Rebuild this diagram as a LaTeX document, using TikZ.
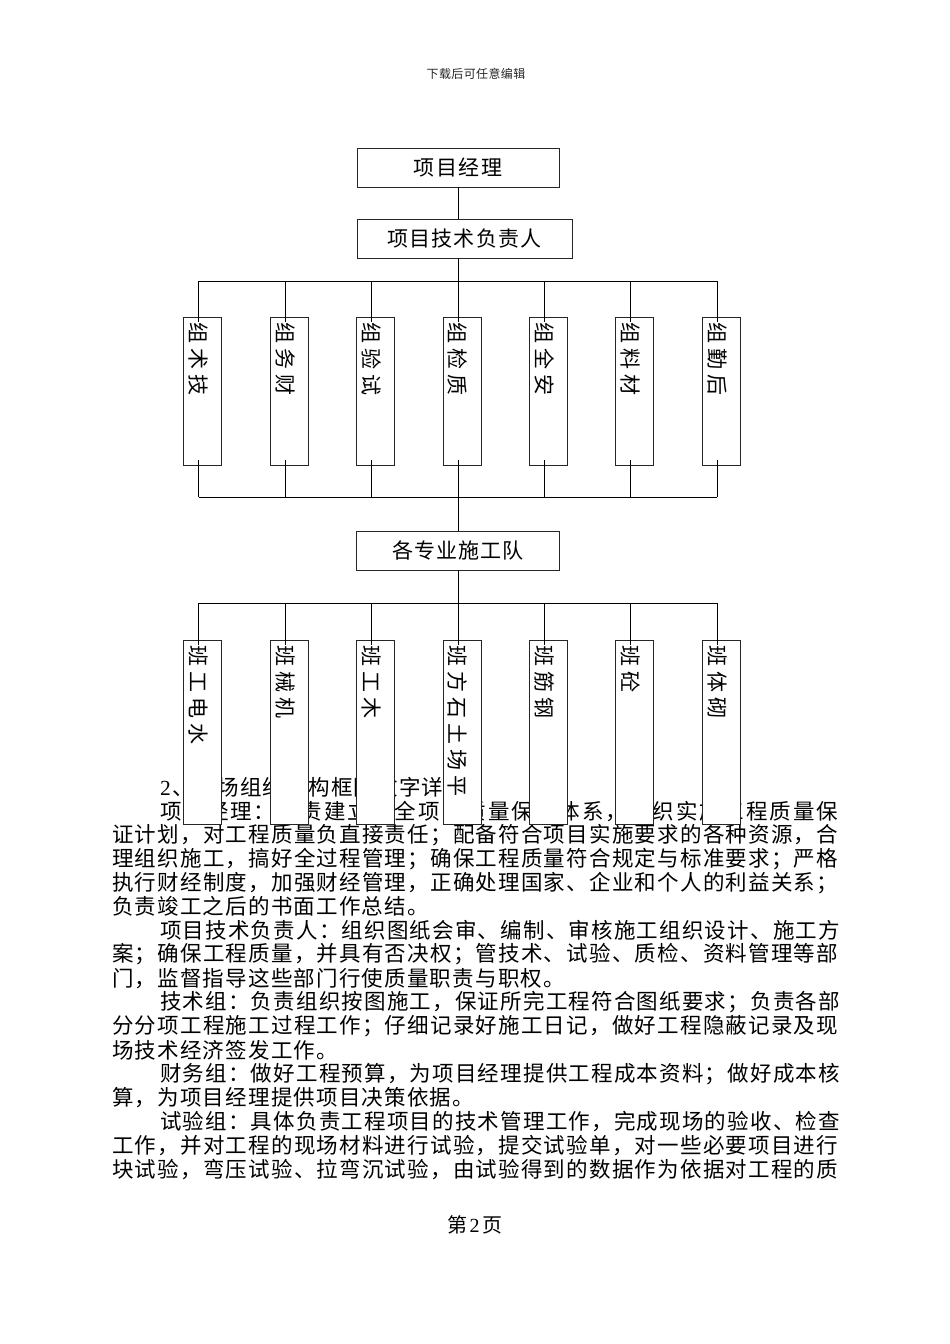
\documentclass[tikz,border=0pt]{standalone}
\usepackage{fontspec}
\setmainfont{Liberation Serif}
\newfontfamily\cjk{Noto Sans CJK SC}
\usetikzlibrary{calc}
\ExplSyntaxOn
\NewDocumentCommand\tx{O{1.2pt} m}{
  \bool_set_false:N \l_tmpa_bool
  \exp_args:No \tl_map_inline:nn {#2} {
    \bool_if:NT \l_tmpa_bool { \skip_horizontal:n { #1 plus 1fil } }
    \bool_set_true:N \l_tmpa_bool
    {##1}
  }
}
\ExplSyntaxOff
\tikzset{
  conn/.style={line width=0.8pt, draw=black},
  hbox/.style={draw=black!85, line width=0.9pt, fill=white, minimum height=39pt, inner sep=0pt, font=\cjk\fontsize{21}{21}\selectfont},
  vbox/.style={draw=black!85, line width=0.9pt, fill=white, minimum width=38pt, inner sep=0pt},
  vtxt/.style={rotate=-90, anchor=west, inner sep=0pt, font=\cjk\fontsize{21}{21}\selectfont},
  body/.style={anchor=west, inner sep=0pt, font=\cjk\fontsize{21.5}{21.5}\selectfont},
}
\begin{document}
\begin{tikzpicture}[x=1pt, y=-1pt]
\useasboundingbox[fill=white] (0,0) rectangle (950,1344);

% header
\node[inner sep=0pt, font=\cjk\fontsize{12}{12}\selectfont, text=black!85] (hdr) at (476,74) {\tx[0.4pt]{下载后可任意编辑}};

% body text
\node[body] (l1) at (160,787.2) {\tx{{\rmfamily 2}、现场组织机构框图文字详注}};
\node[body] (l2) at (160,811.1) {\hbox to 678pt{\tx{项目经理：负责建立健全项目质量保证体系，组织实施工程质量保}}};
\node[body] (l3) at (112,835) {\hbox to 726pt{\tx{证计划，对工程质量负直接责任；配备符合项目实施要求的各种资源，合}}};
\node[body] (l4) at (112,858.9) {\hbox to 726pt{\tx{理组织施工，搞好全过程管理；确保工程质量符合规定与标准要求；严格}}};
\node[body] (l5) at (112,882.8) {\hbox to 726pt{\tx{执行财经制度，加强财经管理，正确处理国家、企业和个人的利益关系；}}};
\node[body] (l6) at (112,906.7) {\tx{负责竣工之后的书面工作总结。}};
\node[body] (l7) at (160,930.6) {\hbox to 678pt{\tx{项目技术负责人：组织图纸会审、编制、审核施工组织设计、施工方}}};
\node[body] (l8) at (112,954.5) {\hbox to 726pt{\tx{案；确保工程质量，并具有否决权；管技术、试验、质检、资料管理等部}}};
\node[body] (l9) at (112,978.4) {\tx{门，监督指导这些部门行使质量职责与职权。}};
\node[body] (l10) at (160,1002.3) {\hbox to 678pt{\tx{技术组：负责组织按图施工，保证所完工程符合图纸要求；负责各部}}};
\node[body] (l11) at (112,1026.2) {\hbox to 726pt{\tx{分分项工程施工过程工作；仔细记录好施工日记，做好工程隐蔽记录及现}}};
\node[body] (l12) at (112,1050.1) {\tx{场技术经济签发工作。}};
\node[body] (l13) at (160,1074) {\hbox to 678pt{\tx{财务组：做好工程预算，为项目经理提供工程成本资料；做好成本核}}};
\node[body] (l14) at (112,1097.9) {\tx{算，为项目经理提供项目决策依据。}};
\node[body] (l15) at (160,1121.8) {\hbox to 678pt{\tx{试验组：具体负责工程项目的技术管理工作，完成现场的验收、检查}}};
\node[body] (l16) at (112,1145.7) {\hbox to 726pt{\tx{工作，并对工程的现场材料进行试验，提交试验单，对一些必要项目进行}}};
\node[body] (l17) at (112,1169.6) {\hbox to 726pt{\tx{块试验，弯压试验、拉弯沉试验，由试验得到的数据作为依据对工程的质}}};

% footer
\node[inner sep=0pt, font=\cjk\fontsize{20}{20}\selectfont] (ftr) at (475,1225) {第\kern2pt{\rmfamily 2}\kern3pt 页};

% main boxes
\node[hbox, minimum width=202pt] (pm) at (458,167.5) {\tx[1.7pt]{项目经理}};
\node[hbox, minimum width=215pt] (tl) at (464.5,238.5) {\tx[1.2pt]{项目技术负责人}};
\node[hbox, minimum width=203pt] (team) at (458,550.5) {\tx[1.2pt]{各专业施工队}};

% group boxes (top row)
\foreach \i/\t in {0/组术技,1/组务财,2/组验试,3/组检质,4/组全安,5/组料材,6/组勤后}{
  \pgfmathsetmacro\lx{458+86.4*(\i-3)}
  \coordinate (a\i) at (\lx,281);
  \coordinate (b\i) at (\lx,497);
  \node[vbox, minimum height=148pt] (g\i) at (\lx+4,391) {};
  \node[vtxt] (gt\i) at (\lx,322) {\tx[5pt]{\t}};
}
% team boxes (bottom row)
\foreach \i/\t in {0/班工电水,1/班械机,2/班工木,3/班方石土场平,4/班筋钢,5/班砼,6/班体砌}{
  \pgfmathsetmacro\lx{458+86.4*(\i-3)}
  \coordinate (c\i) at (\lx,603);
  \node[vbox, minimum height=184pt] (k\i) at (\lx+4,732) {};
  \node[vtxt] (kt\i) at (\lx,645) {\tx[5pt]{\t}};
}

% connectors
\draw[conn] (pm.south) -- (pm.south |- tl.north);
\draw[conn] (a3 |- tl.south) -- (a3);
\draw[conn] (a0) -- (a6);
\draw[conn] (b0) -- (b6);
\draw[conn] (b3) -- (team.north);
\draw[conn] (team.south) -- (c3);
\draw[conn] (c0) -- (c6);
\foreach \i in {0,...,6}{
  \draw[conn] (a\i) -- ($(a\i |- g\i.north)+(0,5)$);
  \draw[conn] (b\i) -- ($(b\i |- g\i.south)+(0,-5)$);
  \draw[conn] (c\i) -- ($(c\i |- k\i.north)+(0,5)$);
}
\end{tikzpicture}
\end{document}
